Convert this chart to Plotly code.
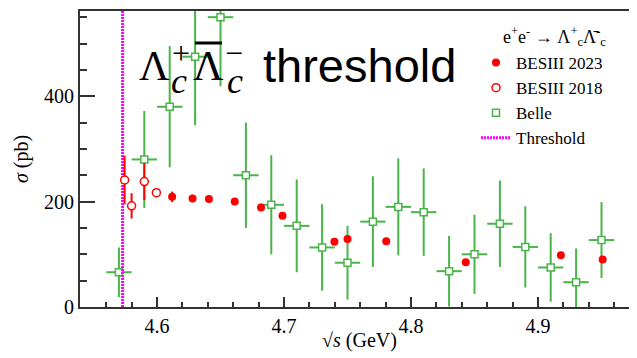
import plotly.graph_objects as go

# ---------------- data ----------------
belle_x = [4.57, 4.59, 4.61, 4.63, 4.65, 4.67, 4.69, 4.71, 4.73, 4.75,
           4.77, 4.79, 4.81, 4.83, 4.85, 4.87, 4.89, 4.91, 4.93, 4.95]
belle_y = [66, 280, 380, 475, 550, 250, 194, 154, 113, 84,
           162, 190, 180, 68, 100, 158, 114, 75, 47, 127]
belle_err = [47, 92, 115, 130, 131, 100, 94, 88, 82, 70,
             86, 92, 83, 67, 75, 82, 77, 65, 64, 72]
belle_xerr = [0.01] * len(belle_x)

bes18_x = [4.5745, 4.5800, 4.5900, 4.5995]
bes18_y = [241, 192, 238, 217]
bes18_err = [46, 24, 35, 6]

bes23_x = [4.6119, 4.6280, 4.6409, 4.6612, 4.6819, 4.6988,
           4.7397, 4.7500, 4.7805, 4.8431, 4.9180, 4.9509]
bes23_y = [209, 206, 205, 200, 189, 173, 124, 129, 125, 85, 98, 90]
bes23_err = [10, 7, 6, 6, 5, 6, 5, 6, 5, 5, 5, 5]

THRESHOLD = 4.5729
X_RANGE = [4.53937, 4.97795]
Y_RANGE = [0, 561.7]
x_ticks = [4.6, 4.7, 4.8, 4.9]
y_ticks = [0, 200, 400]

GREEN = "#4ab44a"
RED = "#ff0000"
MAG = "#ff00ff"
SERIF = "'Liberation Serif', 'Times New Roman', Times, serif"
SANS = "'Liberation Sans', Arial, sans-serif"

# page body has an 8px margin: figure coordinates = screen coordinates - 8
OFF = 8
W, H = 637 - OFF, 358 - OFF

fig = go.Figure()

fig.add_trace(go.Scatter(
    x=belle_x, y=belle_y, mode="markers", name="Belle", legendrank=3,
    marker=dict(symbol="square", size=7, color="white",
                line=dict(color=GREEN, width=1.5)),
    error_y=dict(type="data", array=belle_err, color=GREEN, thickness=2, width=0),
    error_x=dict(type="data", array=belle_xerr, color=GREEN, thickness=2, width=0),
    cliponaxis=True,
))

fig.add_trace(go.Scatter(
    x=[THRESHOLD, THRESHOLD], y=Y_RANGE, mode="lines", name="Threshold",
    legendrank=4, line=dict(color=MAG, width=3, dash="2px,1px"),
))

fig.add_trace(go.Scatter(
    x=bes18_x, y=bes18_y, mode="markers", name="BESIII 2018", legendrank=2,
    marker=dict(symbol="circle", size=8, color="white",
                line=dict(color=RED, width=1.5)),
    error_y=dict(type="data", array=bes18_err, color=RED, thickness=2, width=0),
))

fig.add_trace(go.Scatter(
    x=bes23_x, y=bes23_y, mode="markers", name="BESIII 2023", legendrank=1,
    marker=dict(symbol="circle", size=8, color=RED),
    error_y=dict(type="data", array=bes23_err, color=RED, thickness=2, width=0),
))

# plot area in screen pixels
L, R, T, B = 80, 637, 11, 307


def px(xs):
    return (xs - L) / (R - L)


def py(ys):
    return (B - ys) / (B - T)


anns = []


def ann(text, x, y, size, family, italic=False):
    t = f"<i>{text}</i>" if italic else text
    anns.append(dict(text=t, x=px(x), y=py(y), xref="paper", yref="paper",
                     xanchor="center", yanchor="middle", showarrow=False,
                     font=dict(size=size, family=family, color="black")))


ann("threshold", 359, 65, 47, SANS)
ann("Λ", 154, 66, 42, SERIF)
ann("+", 181, 53, 32, SERIF)
ann("c", 179, 81, 36, SERIF, italic=True)
ann("Λ", 208, 66, 42, SERIF)
ann("−", 234, 53, 32, SERIF)
ann("c", 235, 81, 36, SERIF, italic=True)
# legend header
ann("e<sup>+</sup>e<sup>-</sup> → Λ<sup>+</sup><sub>c</sub>Λ̄<sup>-</sup><sub>c</sub>",
    554, 37, 18, SERIF)
# x-axis title
ann("√<i>s</i> (GeV)", 359, 340, 20, SERIF)

shapes = [dict(type="line", xref="paper", yref="paper",
               x0=px(195), x1=px(222), y0=py(43), y1=py(43),
               line=dict(color="black", width=3))]

fig.update_layout(
    width=W, height=H,
    margin=dict(l=L - OFF, r=W - (R - OFF), t=T - OFF, b=H - (B - OFF)),
    paper_bgcolor="white", plot_bgcolor="white",
    font=dict(family=SERIF, size=20, color="black"),
    showlegend=True,
    legend=dict(
        x=px(476), y=py(45), xanchor="left", yanchor="top",
        bgcolor="rgba(0,0,0,0)", font=dict(family=SERIF, size=17, color="black"),
        tracegroupgap=0, itemwidth=30,
    ),
    annotations=anns,
    shapes=shapes,
    xaxis=dict(
        range=X_RANGE, tickvals=x_ticks, ticktext=[f"{v:.1f}" for v in x_ticks],
        ticks="inside", ticklen=10, tickwidth=1.5, tickcolor="#333",
        minor=dict(dtick=0.02, tick0=4.5, ticks="inside", ticklen=5,
                   tickwidth=1.5, tickcolor="#333"),
        showline=True, linecolor="#333", linewidth=2, mirror=True,
        showgrid=False, zeroline=False,
        tickfont=dict(size=20, family=SERIF, color="black"),
    ),
    yaxis=dict(
        range=Y_RANGE, tickvals=y_ticks,
        ticks="inside", ticklen=15, tickwidth=1.5, tickcolor="#333",
        minor=dict(dtick=50, tick0=0, ticks="inside", ticklen=7,
                   tickwidth=1.5, tickcolor="#333"),
        showline=True, linecolor="#333", linewidth=2,
        showgrid=False, zeroline=False,
        title=dict(text="<i>σ</i> (pb)", font=dict(size=20, family=SERIF, color="black"),
                   standoff=10),
        tickfont=dict(size=20, family=SERIF, color="black"),
    ),
)

fig.write_html("out.html")
